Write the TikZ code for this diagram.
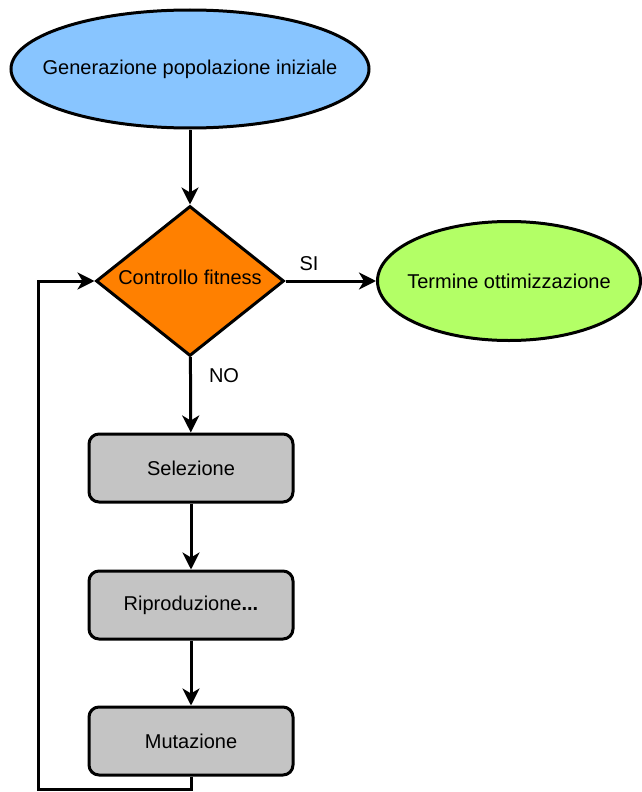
\documentclass[tikz,border=0pt]{standalone}
\usepackage{fontspec}
\setmainfont{Liberation Sans}
\usetikzlibrary{calc,shapes,arrows.meta}
\definecolor{startblue}{HTML}{88C5FF}
\definecolor{testorange}{HTML}{FF8000}
\definecolor{endgreen}{HTML}{B3FF66}
\definecolor{stepgrey}{HTML}{C4C4C4}

\begin{document}
\begin{tikzpicture}[x=1pt,y=-1pt,line width=3pt,>={Stealth[length=17pt,width=17pt,inset=5pt]},
font=\fontsize{20}{24}\selectfont,
term/.style={ellipse,draw=black,inner ysep=0pt},
test/.style={diamond,draw=black,fill=testorange,minimum width=188pt,minimum height=150pt,aspect=1.25,inner sep=0pt,text depth=8pt},
stepbox/.style={rectangle,rounded corners=10pt,draw=black,fill=stepgrey,minimum width=204pt,minimum height=68pt}]
	\useasboundingbox (0,0) rectangle (642,792);
	\node[term,fill=startblue,minimum width=358pt,minimum height=118pt,inner xsep=-25pt] at (190,69) (gen) {Generazione popolazione iniziale};
	\node[test] at (190,281) (ctrl) {Controllo fitness};
	\node[term,fill=endgreen,minimum width=263pt,minimum height=119pt,inner xsep=-15pt] at (509,281) (fine) {Termine ottimizzazione};
	\node[stepbox] at (191,468) (m1) {Selezione};
	\node[stepbox] at (191,605) (m2) {Riproduzione\textbf{...}};
	\node[stepbox] at (191,741) (m3) {Mutazione};
	\node at (309,264) (si) {SI};
	\node at (224,376) (no) {NO};
	\coordinate (back) at (38,789);

	\draw[->] (gen) -- (ctrl);
	\draw[->] (ctrl) -- (fine);
	\draw[->] (ctrl) -- (m1);
	\draw[->] (m1) -- (m2);
	\draw[->] (m2) -- (m3);
	\draw[->] (m3.south) |- (back) |- (ctrl.west);
\end{tikzpicture}
\end{document}
